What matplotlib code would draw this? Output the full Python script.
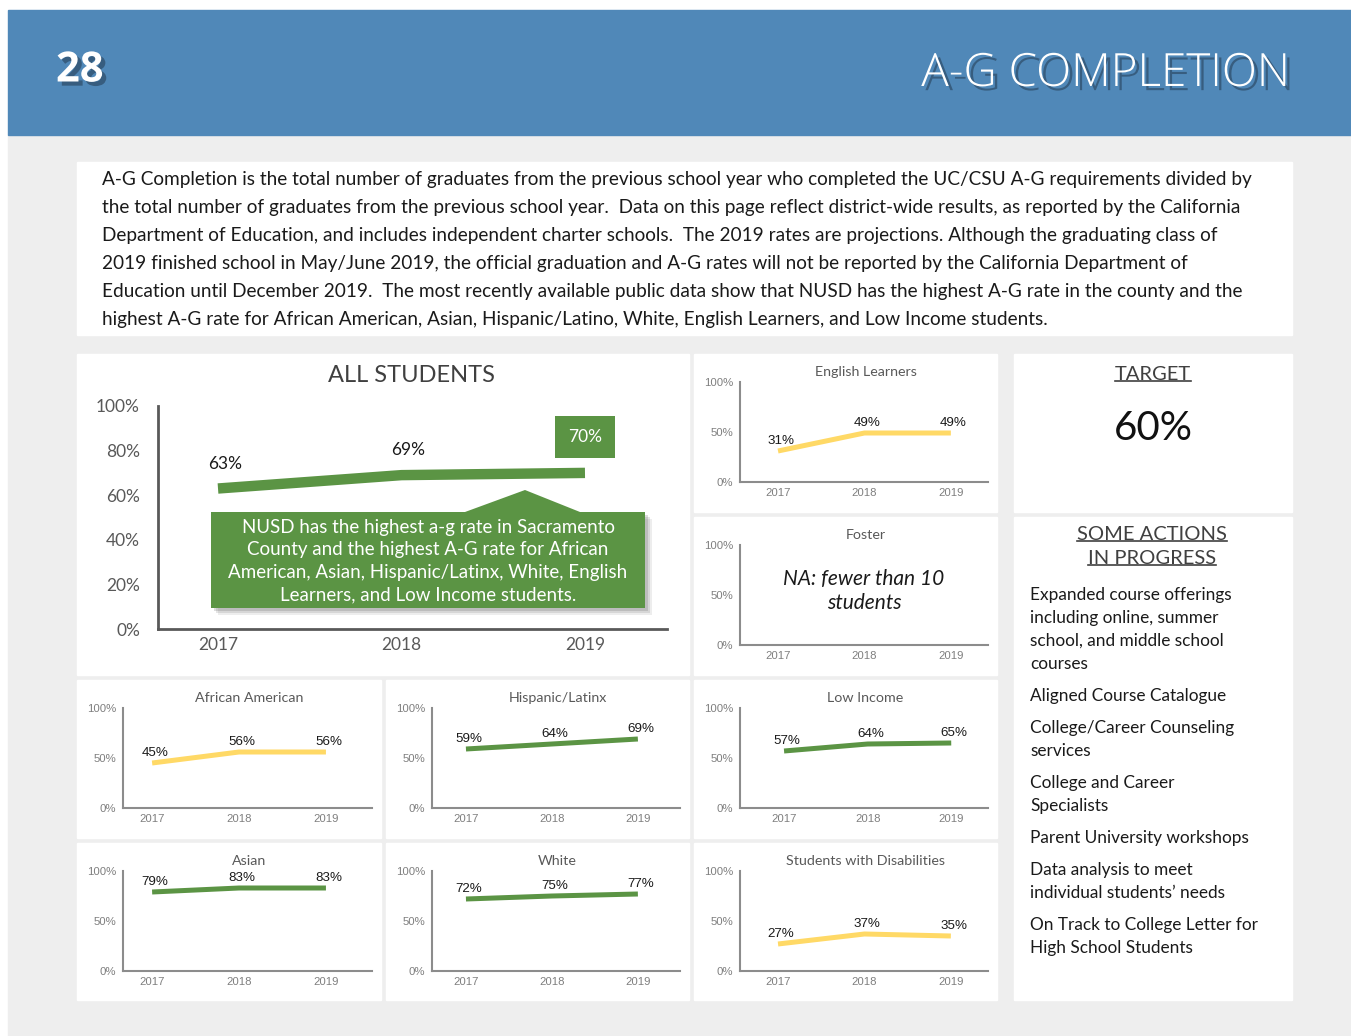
import matplotlib
matplotlib.use('Agg')
import matplotlib.pyplot as plt
from matplotlib.patches import Rectangle, Polygon
import matplotlib.patheffects as pe

# ---------------- data ----------------
years = ['2017', '2018', '2019']
all_students = [63, 69, 70]
english_learners = [31, 49, 49]
african_american = [45, 56, 56]
hispanic_latinx = [59, 64, 69]
low_income = [57, 64, 65]
asian = [79, 83, 83]
white = [72, 75, 77]
disabilities = [27, 37, 35]
main_yticks = [0, 20, 40, 60, 80, 100]
small_yticks = [0, 50, 100]
target_value = '60%'

page_number = '28'
page_title = 'A-G COMPLETION'
intro_lines = [
    "A-G Completion is the total number of graduates from the previous school year who completed the UC/CSU A-G requirements divided by",
    "the total number of graduates from the previous school year.  Data on this page reflect district-wide results, as reported by the California",
    "Department of Education, and includes independent charter schools.  The 2019 rates are projections. Although the graduating class of",
    "2019 finished school in May/June 2019, the official graduation and A-G rates will not be reported by the California Department of",
    "Education until December 2019.  The most recently available public data show that NUSD has the highest A-G rate in the county and the",
    "highest A-G rate for African American, Asian, Hispanic/Latino, White, English Learners, and Low Income students.",
]
callout_lines = [
    "NUSD has the highest a-g rate in Sacramento",
    "County and the highest A-G rate for African",
    "American, Asian, Hispanic/Latinx, White, English",
    "Learners, and Low Income students.",
]
actions = [
    ["Expanded course offerings", "including online, summer", "school, and middle school", "courses"],
    ["Aligned Course Catalogue"],
    ["College/Career Counseling", "services"],
    ["College and Career", "Specialists"],
    ["Parent University workshops"],
    ["Data analysis to meet", "individual students\u2019 needs"],
    ["On Track to College Letter for", "High School Students"],
]

GREEN = '#5b9444'
YELLOW = '#ffd966'
BLUE = '#5088b8'
BGGRAY = '#eeeeee'
TXT = '#404040'
SANS = ['Lato', 'DejaVu Sans']
ARIAL = ['Liberation Sans', 'DejaVu Sans']

W, H = 1351, 1036
fig = plt.figure(figsize=(W / 100, H / 100), dpi=100)


def px_axes(l, t, r, b, **kw):
    return fig.add_axes([l / W, 1 - b / H, (r - l) / W, (b - t) / H], **kw)


# ---------------- background layer ----------------
bg = px_axes(0, 0, W, H)
bg.set_xlim(0, W)
bg.set_ylim(H, 0)
bg.axis('off')
bg.add_patch(Rectangle((0, 0), W, H, color='white'))
bg.add_patch(Rectangle((8, 135), W - 8, H - 135, color=BGGRAY))
bg.add_patch(Rectangle((8, 10), W - 8, 125, color=BLUE))

shadow = [pe.SimplePatchShadow(offset=(3, -3), shadow_rgbFace='#1a2a3a', alpha=0.45), pe.Normal()]
bg.text(56, 71, page_number, color='white', fontsize=30, fontweight='bold',
        family=['Open Sans', 'DejaVu Sans'], ha='left', va='center', path_effects=shadow)
bg.text(1290, 74, page_title, color='white', fontsize=33, fontweight='light',
        family=['Open Sans', 'DejaVu Sans'], ha='right', va='center',
        path_effects=shadow)

# white panels
panels = [
    (77, 162, 1292, 335),
    (77, 354, 689, 675),
    (694, 354, 997, 512), (694, 517, 997, 675),
    (1014, 354, 1292, 512), (1014, 517, 1292, 1000),
    (77, 680, 381, 838), (386, 680, 689, 838), (694, 680, 997, 838),
    (77, 843, 381, 1000), (386, 843, 689, 1000), (694, 843, 997, 1000),
]
for l, t, r, b in panels:
    bg.add_patch(Rectangle((l, t), r - l, b - t, color='white'))

for i, line in enumerate(intro_lines):
    bg.text(102, 179 + 28 * i, line, fontsize=13.7, family=SANS, color='#1a1a1a',
            ha='left', va='center')

# ---------------- main chart ----------------
ax = px_axes(158, 406, 667, 629)
ax.patch.set_alpha(0)
ax.set_xlim(-0.327, 2.447)
ax.set_ylim(0, 100)
for s in ['top', 'right']:
    ax.spines[s].set_visible(False)
for s in ['left', 'bottom']:
    ax.spines[s].set_color('#595959')
    ax.spines[s].set_linewidth(2)
ax.set_yticks(main_yticks)
ax.set_yticklabels([f'{v}%' for v in main_yticks])
ax.set_xticks(range(len(years)))
ax.set_xticklabels(years)
ax.tick_params(length=0, labelsize=12.5, colors='#595959')
ax.tick_params(axis='y', pad=13)
ax.tick_params(axis='x', pad=6)
for lab in ax.get_xticklabels() + ax.get_yticklabels():
    lab.set_family(SANS)
ax.plot(range(len(years)), all_students, color=GREEN, lw=7.5, solid_capstyle='butt')
for i, v in enumerate(all_students[:-1]):
    ax.annotate(f'{v}%', (i, v), xytext=(5, 18), textcoords='offset points',
                ha='center', va='center', fontsize=12.5, family=SANS, color='#1a1a1a')
ax.annotate(f'{all_students[-1]}%', (2, all_students[-1]), xytext=(0, 26), textcoords='offset points',
            ha='center', va='center', fontsize=12.5, family=SANS, color='white',
            bbox=dict(boxstyle='square,pad=0.75', fc=GREEN, ec='none'))
bg.text(411, 376, 'ALL STUDENTS', fontsize=17, family=SANS, color=TXT, ha='center', va='center')

# ---------------- small charts ----------------
# (title, values, colour, panel box, x-limits)
small = [
    ('English Learners', english_learners, YELLOW, (694, 354, 997, 512), (-0.44, 2.43)),
    ('Foster', None, YELLOW, (694, 517, 997, 675), (-0.44, 2.43)),
    ('African American', african_american, YELLOW, (77, 680, 381, 838), (-0.335, 2.53)),
    ('Hispanic/Latinx', hispanic_latinx, GREEN, (386, 680, 689, 838), (-0.395, 2.49)),
    ('Low Income', low_income, GREEN, (694, 680, 997, 838), (-0.527, 2.44)),
    ('Asian', asian, GREEN, (77, 843, 381, 1000), (-0.335, 2.53)),
    ('White', white, GREEN, (386, 843, 689, 1000), (-0.395, 2.49)),
    ('Students with Disabilities', disabilities, YELLOW, (694, 843, 997, 1000), (-0.44, 2.43)),
]
for title, vals, col, (l, t, r, b), xl in small:
    a = px_axes(l + 46, t + 28, r - 9, t + 128)
    a.patch.set_alpha(0)
    a.set_xlim(*xl)
    a.set_ylim(0, 100)
    for s in ['top', 'right']:
        a.spines[s].set_visible(False)
    for s in ['left', 'bottom']:
        a.spines[s].set_color('#8c8c8c')
        a.spines[s].set_linewidth(1.5)
    a.set_yticks(small_yticks)
    a.set_yticklabels([f'{v}%' for v in small_yticks])
    a.set_xticks(range(len(years)))
    a.set_xticklabels(years)
    a.tick_params(length=0, labelsize=8.2, colors='#7f7f7f')
    a.tick_params(axis='y', pad=5)
    a.tick_params(axis='x', pad=4)
    for lab in a.get_xticklabels() + a.get_yticklabels():
        lab.set_family(ARIAL)
    if vals is not None:
        a.plot(range(len(years)), vals, color=col, lw=3.6, solid_capstyle='butt')
        for i, v in enumerate(vals):
            a.annotate(f'{v}%', (i, v), xytext=(2, 7), textcoords='offset points',
                       ha='center', va='center', fontsize=9.6, family=ARIAL, color='#1a1a1a')
    else:
        a.text(0.5, 0.54, 'NA: fewer than 10\nstudents', transform=a.transAxes, ha='center',
               va='center', fontsize=15, style='italic', family=SANS, color='#1a1a1a',
               linespacing=1.2)
    bg.text((l + r) / 2 + 20, t + 18, title, fontsize=10.3, family=SANS, color='#595959',
            ha='center', va='center')

# ---------------- callout (foreground) ----------------
fg = px_axes(0, 0, W, H)
fg.set_xlim(0, W)
fg.set_ylim(H, 0)
fg.axis('off')
fg.patch.set_alpha(0)
call = [(211, 512), (465, 512), (525, 490), (580, 512), (645, 512), (645, 608), (211, 608)]
for k, al in [(7, 0.10), (5, 0.15), (3, 0.2)]:
    fg.add_patch(Polygon([(x + k, y + k) for x, y in call], closed=True, fc='#555555',
                         ec='none', alpha=al))
fg.add_patch(Polygon(call, closed=True, fc=GREEN, ec='none'))
for i, line in enumerate(callout_lines):
    fg.text(428, 527 + 22.7 * i, line, fontsize=13.5, family=SANS, color='white',
            ha='center', va='center')

# ---------------- target / actions ----------------
underlined = []
underlined.append(bg.text(1153, 374, 'TARGET', fontsize=14.5, family=SANS, color=TXT,
                          ha='center', va='center'))
bg.text(1153, 429, target_value, fontsize=29, family=SANS, color='#111111', ha='center', va='center')
underlined.append(bg.text(1152, 534, 'SOME ACTIONS', fontsize=14.5, family=SANS, color=TXT,
                          ha='center', va='center'))
underlined.append(bg.text(1152, 558, 'IN PROGRESS', fontsize=14.5, family=SANS, color=TXT,
                          ha='center', va='center'))
y = 595
for item in actions:
    for j, line in enumerate(item):
        bg.text(1030, y, line, fontsize=12.4, family=SANS, color='#1a1a1a', ha='left', va='center')
        y += 23
    y += 9

fig.canvas.draw()
renderer = fig.canvas.get_renderer()
inv = bg.transData.inverted()
for t in underlined:
    bb = t.get_window_extent(renderer)
    (x0, y0), (x1, y1) = inv.transform([(bb.x0, bb.y0), (bb.x1, bb.y1)])
    ybot = max(y0, y1) - 2
    bg.plot([x0, x1], [ybot, ybot], color=TXT, lw=1.2)

fig.savefig('out.png', dpi=100)
